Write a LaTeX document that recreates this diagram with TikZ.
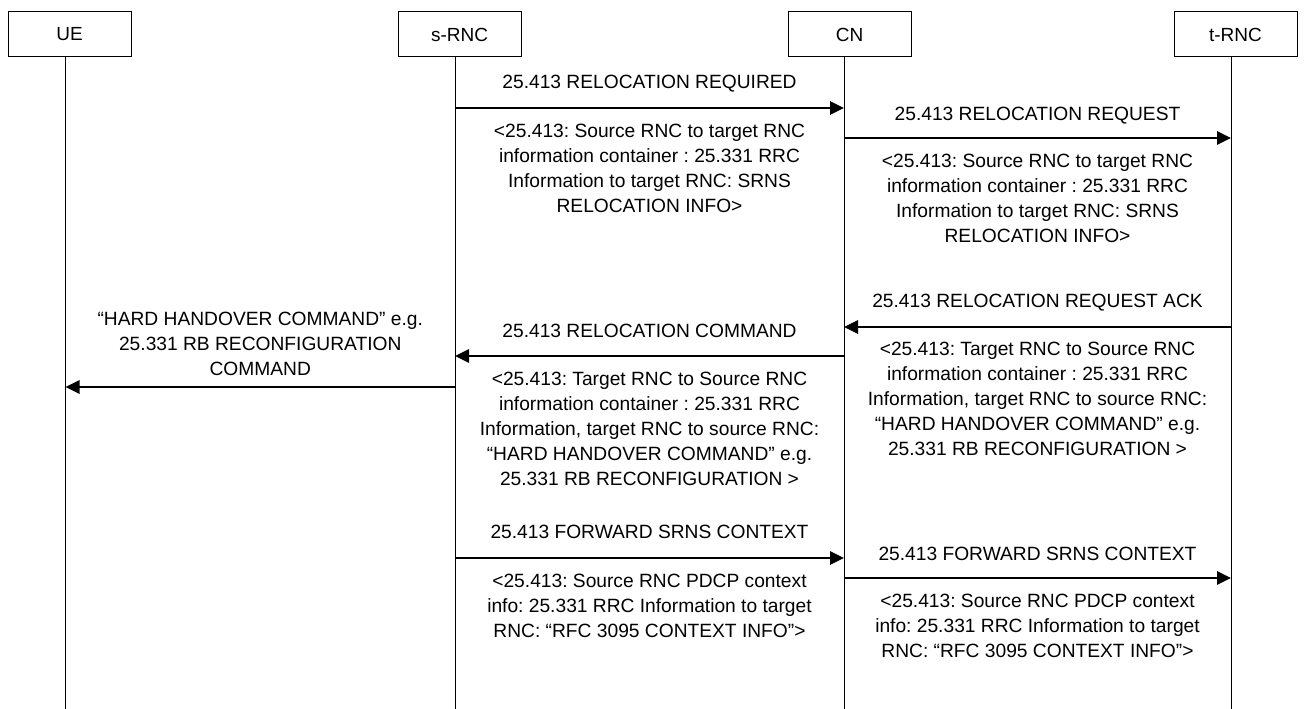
\documentclass[tikz,border=0pt]{standalone}
\usepackage{fontspec}
\setmainfont{Liberation Sans}
\usetikzlibrary{arrows.meta}
\frenchspacing
\begin{document}
\begin{tikzpicture}[x=1pt,y=-1pt,
  entity/.style={draw, line width=1pt, minimum width=123pt, minimum height=45pt, inner sep=0pt, font=\fontsize{19}{25}\selectfont\frenchspacing},
  life/.style={line width=1pt},
  msg/.style={line width=2.8pt, -{Triangle[length=14pt,width=13pt]}},
  txt/.style={font=\fontsize{19.2}{25}\selectfont\frenchspacing, align=center, inner sep=0pt, anchor=base}
]
\useasboundingbox (0,0) rectangle (1307,709);
% entities
\node[entity] (ue) at (69.5,34.5) {UE};
\node[entity] (srnc) at (459.5,34.5) {s-RNC};
\node[entity] (cn) at (849.5,34.5) {CN};
\node[entity] (trnc) at (1235.5,34.5) {t-RNC};
% lifelines
\coordinate (ueT) at (65.5,57);  \coordinate (ueB) at (65.5,709);
\coordinate (sT) at (455,57);    \coordinate (sB) at (455,709);
\coordinate (cT) at (844,57);    \coordinate (cB) at (844,709);
\coordinate (tT) at (1231,57);   \coordinate (tB) at (1231,709);
\draw[life] (ueT) -- (ueB);
\draw[life] (sT) -- (sB);
\draw[life] (cT) -- (cB);
\draw[life] (tT) -- (tB);
% message end points
\coordinate (m1a) at (455,108);  \coordinate (m1b) at (844,108);
\coordinate (m2a) at (844,138);  \coordinate (m2b) at (1231,138);
\coordinate (m3a) at (1231,327); \coordinate (m3b) at (844,327);
\coordinate (m4a) at (844,356);  \coordinate (m4b) at (455,356);
\coordinate (m5a) at (455,387);  \coordinate (m5b) at (65.5,387);
\coordinate (m6a) at (455,558);  \coordinate (m6b) at (844,558);
\coordinate (m7a) at (844,578);  \coordinate (m7b) at (1231,578);
\draw[msg] (m1a) -- (m1b);
\draw[msg] (m2a) -- (m2b);
\draw[msg] (m3a) -- (m3b);
\draw[msg] (m4a) -- (m4b);
\draw[msg] (m5a) -- (m5b);
\draw[msg] (m6a) -- (m6b);
\draw[msg] (m7a) -- (m7b);
% labels (base = baseline of last line)
\node[txt] (l1) at (649.5,88.5) {25.413 RELOCATION REQUIRED};
\node[txt] (b1) at (649.5,212) {<25.413: Source RNC to target RNC\\information container : 25.331 RRC\\Information to target RNC: SRNS\\RELOCATION INFO>};
\node[txt] (l2) at (1037.5,120) {25.413 RELOCATION REQUEST};
\node[txt] (b2) at (1037.5,242) {<25.413: Source RNC to target RNC\\information container : 25.331 RRC\\Information to target RNC: SRNS\\RELOCATION INFO>};
\node[txt] (l3) at (1037.5,307) {25.413 RELOCATION REQUEST ACK};
\node[txt] (b3) at (1037.5,455) {<25.413: Target RNC to Source RNC\\information container : 25.331 RRC\\Information, target RNC to source RNC:\\“HARD HANDOVER COMMAND” e.g.\\25.331 RB RECONFIGURATION >};
\node[txt] (l4) at (649.5,337) {25.413 RELOCATION COMMAND};
\node[txt] (b4) at (649.5,485) {<25.413: Target RNC to Source RNC\\information container : 25.331 RRC\\Information, target RNC to source RNC:\\“HARD HANDOVER COMMAND” e.g.\\25.331 RB RECONFIGURATION >};
\node[txt] (l5) at (260.25,375) {“HARD HANDOVER COMMAND” e.g.\\25.331 RB RECONFIGURATION\\COMMAND};
\node[txt] (l6) at (649.5,538.5) {25.413 FORWARD SRNS CONTEXT};
\node[txt] (b6) at (649.5,637) {<25.413: Source RNC PDCP context\\info: 25.331 RRC Information to target\\RNC: “RFC 3095 CONTEXT INFO”>};
\node[txt] (l7) at (1037.5,560) {25.413 FORWARD SRNS CONTEXT};
\node[txt] (b7) at (1037.5,657) {<25.413: Source RNC PDCP context\\info: 25.331 RRC Information to target\\RNC: “RFC 3095 CONTEXT INFO”>};
\end{tikzpicture}
\end{document}
